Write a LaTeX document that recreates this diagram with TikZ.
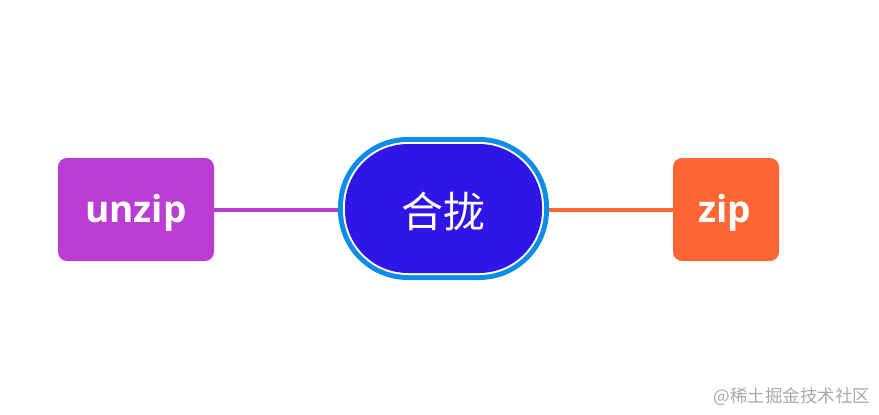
\documentclass[tikz,border=0pt]{standalone}
\usepackage{fontspec}
\setmainfont{Open Sans}
\newfontfamily\cjk{Noto Sans CJK SC}
\definecolor{unzipc}{HTML}{BB3CD3}
\definecolor{zipc}{HTML}{FF6633}
\definecolor{pillc}{HTML}{2F16E6}
\definecolor{ringc}{HTML}{0C8CE9}
\definecolor{wmc}{HTML}{AAAAAA}
\tikzset{
  leaf/.style={rounded corners=9pt, inner sep=0pt},
  leaftext/.style={text=white, font=\fontsize{37}{37}\selectfont\bfseries, inner sep=0pt},
  link/.style={line width=4pt},
}
\begin{document}
\begin{tikzpicture}[x=1pt,y=-1pt]
\useasboundingbox (0,0) rectangle (879,415);
% links
\coordinate (lc) at (345,210);
\coordinate (rc) at (543,210);
\node[leaf, fill=unzipc, minimum width=156pt, minimum height=103pt] (unzip) at (136,209.5) {};
\node[leaf, fill=zipc, minimum width=106pt, minimum height=103pt] (zip) at (726,209.5) {};
\node[leaftext] (unziplabel) at (136,213) {unzip};
\node[leaftext] (ziplabel) at (725,213) {zip};
\draw[link, unzipc] (unzip.east |- lc) -- (lc);
\draw[link, zipc] (rc) -- (zip.west |- rc);
% pill
\fill[ringc, rounded corners=70pt] (338,137) rectangle (549,280);
\fill[white, rounded corners=65pt] (343,142) rectangle (544,275);
\fill[pillc, rounded corners=63pt] (345,144) rectangle (542,273);
\node[text=white, font=\cjk\fontsize{42}{42}\selectfont] (center) at (443.5,211) {合拢};
\node[text=wmc, font=\cjk\fontsize{17.5}{17.5}\selectfont, anchor=east] (wm) at (874,397) {@稀土掘金技术社区};
\end{tikzpicture}
\end{document}
